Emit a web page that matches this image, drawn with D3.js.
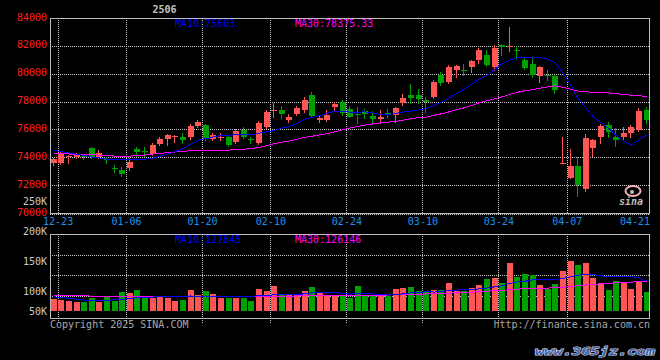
<!DOCTYPE html>
<html><head><meta charset="utf-8">
<script src="https://cdn.jsdelivr.net/npm/d3@7"></script>
<style>
html,body{margin:0;padding:0;background:#000;}
svg{display:block;}
text{font-family:"DejaVu Sans Mono",monospace;font-size:10px;}
</style></head><body>
<svg id="c" width="660" height="360"></svg>
<script>
// ---------------- DATA ----------------
const title = "2506";
const dates = ["12-23","12-24","12-25","12-26","12-27","12-30","12-31","01-02","01-03","01-06",
"01-07","01-08","01-09","01-10","01-13","01-14","01-15","01-16","01-17","01-20",
"01-21","01-22","01-23","01-24","01-27","02-05","02-06","02-07","02-10","02-11",
"02-12","02-13","02-14","02-17","02-18","02-19","02-20","02-21","02-24","02-25",
"02-26","02-27","02-28","03-03","03-04","03-05","03-06","03-07","03-10","03-11",
"03-12","03-13","03-14","03-17","03-18","03-19","03-20","03-21","03-24","03-25",
"03-26","03-27","03-28","03-31","04-01","04-02","04-03","04-07","04-08","04-09",
"04-10","04-11","04-14","04-15","04-16","04-17","04-18","04-21","04-22"];
const open = [73590,73590,74040,74000,74130,74640,74040,73880,73250,73086,
73230,74560,74450,74235,74953,75310,75500,75470,75435,76250,
76320,75310,75470,75430,75075,75960,75320,75050,76196,77350,
77390,76690,77110,77390,78470,76680,76680,77630,77990,77450,
77120,77350,76960,76720,77200,77050,77880,78470,78470,78110,
78350,79910,79430,80266,80300,80500,80985,81340,80500,82060,
81990,81700,80985,80700,79860,79940,79840,73570,72530,73370,
71720,74690,75430,76320,75430,75430,75720,75960,77390];
const high = [73950,74380,74160,74310,74230,74740,74520,74020,73445,73320,
73950,74740,74740,75025,75456,75670,75600,75740,76390,76680,
76390,75740,75740,75600,76030,76180,75450,76600,77390,77920,
77680,77110,77680,78330,78690,76960,77390,77970,78110,77680,
77630,77500,77340,77390,77470,77600,78540,79260,78880,78350,
79550,80100,80625,80625,80700,80985,81820,81700,82060,82130,
83375,81990,81200,81200,80550,80266,79900,75480,74590,74040,
75670,75300,76390,76560,76080,76200,76320,77560,77590];
const low = [73445,73520,73610,73950,73900,73950,73950,73590,72965,72660,
73086,74090,74090,74160,74880,74880,75100,75025,75310,76180,
75240,75240,75240,74810,74990,75380,75050,74950,76100,76870,
76820,76530,77040,77250,76890,76530,76610,77390,77040,76890,
76440,76820,76550,76500,76890,76530,77750,77880,77880,77270,
78260,79200,79310,79790,79900,80150,80770,80550,80266,81340,
81650,81130,80320,79740,79430,79550,78640,73570,72510,71240,
71580,74090,75000,75480,74810,75290,75480,75900,76440];
const close = [73860,74230,74060,74140,74020,74040,74330,73800,73200,72800,
73660,74350,74380,74880,75290,75600,75530,75240,76250,76560,
75290,75600,75490,74880,75910,75480,75290,76480,77270,77400,
77110,76900,77520,78110,76960,76840,77040,77830,77200,76910,
77080,77110,76770,76910,77040,77520,78230,78280,78160,77950,
79430,79350,80500,80553,80230,80910,81700,80625,81870,81940,
82000,81640,80390,79900,80500,79900,78830,73570,73370,72010,
75360,75240,76250,75840,75240,75760,76150,77320,76680];
const volume = [81000,78400,75900,72500,72500,84400,74000,89600,75900,98400,
95800,104300,82800,84400,87000,84400,75900,79200,104300,91400,
101700,94000,84400,82800,84400,82800,75900,106900,101700,114600,
94000,94000,93200,101700,112100,95800,89600,89600,89600,84400,
114600,91400,89600,89600,88800,106900,110300,112800,101700,101700,
104300,103500,123200,101700,101700,108700,117200,132800,134600,123200,
174900,138700,145700,143100,117200,106900,119800,153400,179300,169000,
174900,136100,119000,104300,127600,121600,106900,124200,99500];
const ma10 = [74500,74400,74310,74210,74130,74020,73950,73860,73830,73848,
73828,73840,73872,73946,74073,74229,74420,74620,74930,75230,
75337,75462,75573,75573,75635,75623,75599,75723,75825,75909,
76091,76221,76424,76747,76852,76988,77163,77298,77291,77242,
77239,77260,77185,77065,77073,77141,77260,77305,77401,77505,
77700,77930,78250,78580,78900,79260,79620,79880,80312,80711,
80968,81197,81186,81121,81148,81047,80760,80054,79204,78211,
77547,76907,76493,76087,75561,75147,74879,75254,75603];
const ma30 = [74310,74270,74235,74200,74200,74185,74160,74140,74090,74090,
74090,74110,74160,74235,74280,74330,74380,74430,74465,74500,
74515,74520,74520,74520,74535,74580,74630,74710,74840,74977,
75085,75174,75290,75422,75520,75613,75704,75838,75971,76108,
76222,76314,76394,76462,76520,76584,76674,76775,76839,76885,
77010,77120,77260,77420,77550,77720,77920,78060,78200,78340,
78510,78670,78780,78850,78960,79060,79130,79020,78900,78760,
78710,78660,78650,78620,78570,78515,78450,78415,78375.33];
const vma10 = [87000,84600,82800,80500,78400,77200,76500,77200,79500,80300,
81700,84300,85000,86200,87200,87300,87400,86600,88800,88400,
88800,88000,88200,88000,87800,87600,87600,90000,90000,92000,
91600,91600,92500,94500,96800,97800,98600,97200,96000,93500,
95000,94600,94000,92800,91000,92400,94600,97000,98200,99800,
99000,100200,103200,104200,105200,105800,107200,109300,112500,115100,
121500,125000,126800,130600,131800,131600,131900,134000,138400,143000,
144000,143700,141600,138200,138600,139400,138300,135800,127845];
const vma30 = [91000,90500,90000,89500,89000,88600,88300,88000,87700,87500,
87300,87200,87000,87000,87000,87000,87000,87000,87000,87000,
87000,87100,87200,87200,87300,87300,87300,87300,87400,87400,
87800,88300,88900,89500,90300,90600,90900,90900,91100,90900,
91200,91000,91000,91200,91300,91800,92600,93400,93600,94000,
94400,95000,96200,97000,97800,98800,100200,101300,102500,103300,
105200,106400,107600,108600,109000,109400,110200,111600,113400,115600,
117400,119000,120400,121600,123000,124000,124800,125600,126146];
const priceTicks = [84000,82000,80000,78000,76000,74000,72000,70000];
const priceGrid = [82000,80000,78000,76000,74000,72000];
const volTicks = [250000,200000,150000,100000,50000];
const dateTicks = ["12-23","01-06","01-20","02-10","02-24","03-10","03-24","04-07","04-21"];
const footLeft = "Copyright 2025 SINA.COM";
const footRight = "http://finance.sina.com.cn";
const watermark = "www.365jz.com";

// ---------------- CHART ----------------
const C = {up:"#ff5555", down:"#00a000", ma10:"#0000ff", ma30:"#ff00ff",
  grid:"#c8c8c8", frame:"#bdbdbd", price:"#ff1f1f", date:"#1e90ee", vol:"#c8c8c8", foot:"#a8a8a8"};
const svg = d3.select("#c");
svg.append("rect").attr("width",660).attr("height",360).attr("fill","#000");

const L = 50, R = 649, PT = 18, PB = 213, VT = 234, VB = 318, VBASE = 311;
const n = dates.length;
const x = d3.scaleBand().domain(d3.range(n)).range([L, L + 7.6*n]).padding(0);
const bw = x.bandwidth();
const cx = i => x(i) + bw/2;
const gx = i => x(i) + bw;
const yP = d3.scaleLinear().domain([70000,84000]).range([PB,PT]);
const yV = d3.scaleLinear().domain([50000,200000]).range([VBASE,253]);
const yVLab = d3.scaleLinear().domain([50000,100000,250000]).range([310.7,290.7,201]);
const px = v => Math.round(v) + 0.5;

const tickIdx = dateTicks.map(d => dates.indexOf(d));
const gridIdx = tickIdx.filter(i => gx(i) < R - 10);

// grids
const grid = svg.append("g").attr("stroke",C.grid).attr("stroke-dasharray","1,1")
  .attr("shape-rendering","crispEdges");
grid.selectAll(".hp").data(priceGrid).join("line")
  .attr("x1",L).attr("x2",R).attr("y1",d=>px(yP(d))).attr("y2",d=>px(yP(d)));
grid.append("line").attr("x1",L).attr("x2",R).attr("y1",PB+1.5).attr("y2",PB+1.5);
grid.selectAll(".vp").data(gridIdx).join("line")
  .attr("x1",i=>px(gx(i))).attr("x2",i=>px(gx(i))).attr("y1",PT).attr("y2",PB);
grid.selectAll(".vv").data(gridIdx).join("line")
  .attr("x1",i=>px(gx(i))).attr("x2",i=>px(gx(i))).attr("y1",VT).attr("y2",VB+6);
grid.selectAll(".hv").data([0.25,0.5,0.75]).join("line")
  .attr("x1",L).attr("x2",R)
  .attr("y1",f=>px(VT + (VB-2-VT)*f)).attr("y2",f=>px(VT + (VB-2-VT)*f));

// candles
const cg = svg.append("g").attr("shape-rendering","crispEdges");
d3.range(n).forEach(i => {
  const up = close[i] >= open[i];
  const col = up ? C.up : C.down;
  const left = Math.round(cx(i) - 3);
  const yh = Math.round(yP(high[i])), yl = Math.round(yP(low[i]));
  cg.append("rect").attr("x",left+2).attr("y",yh).attr("width",1).attr("height",Math.max(1,yl-yh+1)).attr("fill",col);
  const yt = Math.round(yP(Math.max(open[i],close[i]))), yb = Math.round(yP(Math.min(open[i],close[i])));
  cg.append("rect").attr("x",left).attr("y",yt).attr("width",6).attr("height",Math.max(1,yb-yt)).attr("fill",col);
});

// volume bars
svg.append("g").attr("shape-rendering","crispEdges").selectAll("rect").data(d3.range(n)).join("rect")
  .attr("x",i=>Math.round(cx(i)-3)).attr("width",6)
  .attr("y",i=>Math.round(yV(volume[i]))).attr("height",i=>VBASE-Math.round(yV(volume[i])))
  .attr("fill",i=>close[i]>=open[i]?C.up:C.down);

// MA lines
const lineP = d3.line().x((d,i)=>cx(i)).y(d=>yP(d));
const lineV = d3.line().x((d,i)=>cx(i)).y(d=>yV(d));
const ml = svg.append("g").attr("fill","none").attr("stroke-width",1).attr("shape-rendering","crispEdges");
ml.append("path").attr("d",lineP(ma30)).attr("stroke",C.ma30);
ml.append("path").attr("d",lineP(ma10)).attr("stroke",C.ma10);
ml.append("path").attr("d",lineV(vma30)).attr("stroke",C.ma30);
ml.append("path").attr("d",lineV(vma10)).attr("stroke",C.ma10);

// frames
const fr = svg.append("g").attr("fill","none").attr("stroke",C.frame).attr("shape-rendering","crispEdges");
fr.append("rect").attr("x",L+0.5).attr("y",PT+0.5).attr("width",R-L).attr("height",PB-PT);
fr.append("rect").attr("x",L+0.5).attr("y",VT+0.5).attr("width",R-L).attr("height",VB-VT);

// axes
const styleAxis = (g, color) => {
  g.select(".domain").remove();
  g.selectAll("line").remove();
  g.attr("font-family",'"DejaVu Sans Mono",monospace').attr("font-size",10);
  g.selectAll("text").attr("fill",color);
};
const ay = svg.append("g").attr("transform","translate(47,0)")
  .call(d3.axisLeft(yP).tickValues(priceTicks).tickSize(0).tickPadding(0).tickFormat(d3.format("d")));
styleAxis(ay, C.price); ay.selectAll("text").attr("dy","0.2em");
const av = svg.append("g").attr("transform","translate(47,0)")
  .call(d3.axisLeft(yVLab).tickValues(volTicks).tickSize(0).tickPadding(0).tickFormat(d=>d/1000+"K"));
styleAxis(av, C.vol); av.selectAll("text").attr("dy","0.36em");
const xT = d3.scaleLinear().domain([0,n-1]).range([gx(0), gx(n-1)]);
const ax = svg.append("g").attr("transform","translate(0,217.5)")
  .call(d3.axisBottom(xT).tickValues(tickIdx).tickSize(0).tickPadding(0).tickFormat(i=>dates[i]));
styleAxis(ax, C.date);
ax.selectAll(".tick").each(function(i){
  if (gx(i) + 15 > R) d3.select(this).select("text").attr("text-anchor","end").attr("x", R + 0.5 - gx(i));
});

// legends
const last = n - 1;
svg.append("text").attr("x",164.5).attr("y",13).attr("text-anchor","middle").attr("fill","#c4c4c4").attr("font-weight","bold").text(title);
svg.append("text").attr("x",175).attr("y",27).attr("fill",C.ma10).text("MA10:"+ma10[last]);
svg.append("text").attr("x",295).attr("y",27).attr("fill",C.ma30).text("MA30:"+ma30[last]);
svg.append("text").attr("x",175).attr("y",242.5).attr("fill",C.ma10).text("MA10:"+vma10[last]);
svg.append("text").attr("x",295).attr("y",242.5).attr("fill",C.ma30).text("MA30:"+vma30[last]);

// footer
svg.append("text").attr("x",50).attr("y",327.5).attr("fill",C.foot).text(footLeft);
svg.append("text").attr("x",650).attr("y",327.5).attr("text-anchor","end").attr("fill",C.foot).text(footRight);

// sina logo mark
const lg = svg.append("g");
lg.append("ellipse").attr("cx",633).attr("cy",191).attr("rx",7.5).attr("ry",5).attr("fill","none").attr("stroke","#f6b4b4").attr("stroke-width",2);
lg.append("circle").attr("cx",632).attr("cy",192).attr("r",2).attr("fill","#bbb");
lg.append("text").attr("x",619).attr("y",205).attr("fill","#bdbdbd")
  .attr("font-family","Liberation Sans, Arial, sans-serif").attr("font-size",15).attr("font-weight","bold").attr("font-style","italic").text("sina");

// watermark
svg.append("text").attr("x",535).attr("y",355)
  .attr("font-family","Liberation Sans, Arial, sans-serif").attr("font-size",20).attr("font-weight","bold").attr("font-style","italic")
  .attr("textLength",120).attr("lengthAdjust","spacingAndGlyphs")
  .attr("fill","#3c5fa8").attr("stroke","#d0d4e4").attr("stroke-width",1).attr("paint-order","stroke").text(watermark);
</script>
</body></html>
